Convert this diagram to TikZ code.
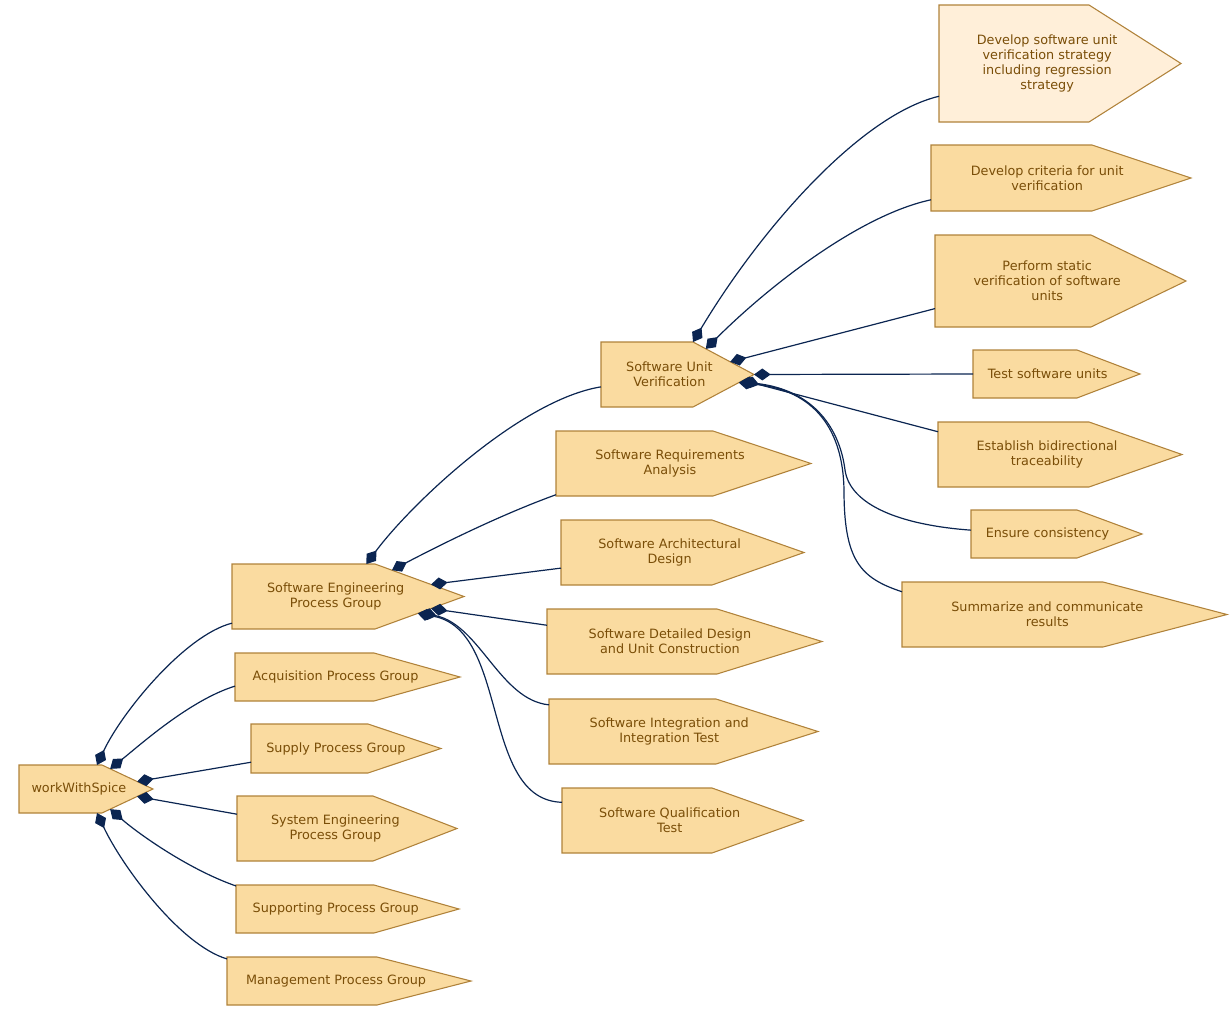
\documentclass[tikz,border=0pt]{standalone}
\usepackage{fontspec}
\setmainfont{DejaVu Sans}
\usepackage{xcolor}
\usepackage{tikz}
\usetikzlibrary{calc,arrows.meta}
\definecolor{stepfill}{HTML}{FADBA0}
\definecolor{steplight}{HTML}{FFEFD9}
\definecolor{stepline}{HTML}{B0823A}
\definecolor{steptextcol}{HTML}{7A4E08}
\definecolor{linkblue}{HTML}{0B2551}

\begin{document}
\begin{tikzpicture}[x=0.75pt,y=-0.75pt,
  stepshape/.style={draw=stepline,line width=0.8pt},
  steptext/.style={text=steptextcol,align=center,inner sep=0pt,font=\fontsize{9.6}{11.3}\selectfont},
  link/.style={draw=linkblue,line width=0.9pt,{Diamond[length=12.5pt,width=9pt]}-}]
\useasboundingbox (0,0) rectangle (1231,1010);
\newcommand{\drawstep}[8]{
  \coordinate (#1-nw) at (#2,#3);
  \coordinate (#1-ne) at (#4,#3);
  \coordinate (#1-tip) at (#5,{(#3+#6)/2});
  \coordinate (#1-se) at (#4,#6);
  \coordinate (#1-sw) at (#2,#6);
  \draw[stepshape,fill=#7] (#1-nw) -- (#1-ne) -- (#1-tip) -- (#1-se) -- (#1-sw) -- cycle;
  \node[steptext] (#1) at ({#2+0.447*(#5-#2)},{(#3+#6)/2}) {#8};}
\drawstep{wws}{19}{765}{102}{153}{813}{stepfill}{workWithSpice}
\drawstep{sepg}{232}{564}{375}{464}{629}{stepfill}{Software Engineering\\Process Group}
\drawstep{acq}{235}{653}{374}{460}{701}{stepfill}{Acquisition Process Group}
\drawstep{sup}{251}{724}{368}{441}{773}{stepfill}{Supply Process Group}
\drawstep{sys}{237}{796}{373}{457}{861}{stepfill}{System Engineering\\Process Group}
\drawstep{spt}{236}{885}{374}{459}{933}{stepfill}{Supporting Process Group}
\drawstep{mgt}{227}{957}{377}{471}{1005}{stepfill}{Management Process Group}
\drawstep{suv}{601}{342}{693}{754}{407}{stepfill}{Software Unit\\Verification}
\drawstep{sra}{556}{431}{713}{811}{496}{stepfill}{Software Requirements\\Analysis}
\drawstep{sad}{561}{520}{712}{804}{585}{stepfill}{Software Architectural\\Design}
\drawstep{sdd}{547}{609}{717}{822}{674}{stepfill}{Software Detailed Design\\and Unit Construction}
\drawstep{sit}{549}{699}{716}{818}{764}{stepfill}{Software Integration and\\Integration Test}
\drawstep{sqt}{562}{788}{712}{803}{853}{stepfill}{Software Qualification\\Test}
\drawstep{dss}{939}{5}{1089}{1181}{122}{steplight}{Develop software unit\\verification strategy\\including regression\\strategy}
\drawstep{dcr}{931}{145}{1092}{1191}{211}{stepfill}{Develop criteria for unit\\verification}
\drawstep{pss}{935}{235}{1091}{1186}{327}{stepfill}{Perform static\\verification of software\\units}
\drawstep{tsu}{973}{350}{1077}{1140}{398}{stepfill}{Test software units}
\drawstep{ebt}{938}{422}{1089}{1182}{487}{stepfill}{Establish bidirectional\\traceability}
\drawstep{ecs}{971}{510}{1077}{1142}{558}{stepfill}{Ensure consistency}
\drawstep{sac}{902}{582}{1103}{1227}{647}{stepfill}{Summarize and communicate\\results}
\draw[link] ($(wws-nw)!0.94!(wws-ne)$) .. controls (122,712) and (185,635) .. ($(sepg-nw)!0.91!(sepg-sw)$);
\draw[link] ($(wws-ne)!0.16!(wws-tip)$) .. controls (140,745) and (190,700) .. ($(acq-nw)!0.69!(acq-sw)$);
\draw[link] ($(wws-ne)!0.69!(wws-tip)$) -- ($(sup-nw)!0.78!(sup-sw)$);
\draw[link] ($(wws-tip)!0.31!(wws-se)$) -- ($(sys-nw)!0.28!(sys-sw)$);
\draw[link] ($(wws-tip)!0.84!(wws-se)$) .. controls (140,835) and (190,870) .. ($(spt-nw)!0.02!(spt-sw)$);
\draw[link] ($(wws-sw)!0.94!(wws-se)$) .. controls (122,866) and (180,945) .. ($(mgt-nw)!0.04!(mgt-sw)$);
\draw[link] ($(sepg-nw)!0.94!(sepg-ne)$) .. controls (410,505) and (520,400) .. ($(suv-nw)!0.69!(suv-sw)$);
\draw[link] ($(sepg-ne)!0.19!(sepg-tip)$) .. controls (440,545) and (500,515) .. ($(sra-nw)!0.98!(sra-sw)$);
\draw[link] ($(sepg-ne)!0.63!(sepg-tip)$) -- ($(sad-nw)!0.74!(sad-sw)$);
\draw[link] ($(sepg-tip)!0.37!(sepg-se)$) -- ($(sdd-nw)!0.25!(sdd-sw)$);
\draw[link] ($(sepg-tip)!0.49!(sepg-se)$) .. controls (480,625) and (500,700) .. ($(sit-nw)!0.09!(sit-sw)$);
\draw[link] ($(sepg-tip)!0.52!(sepg-se)$) .. controls (510,630) and (480,800) .. ($(sqt-nw)!0.22!(sqt-sw)$);
\draw[link] (suv-ne) .. controls (760,230) and (860,115) .. ($(dss-nw)!0.78!(dss-sw)$);
\draw[link] ($(suv-ne)!0.21!(suv-tip)$) .. controls (770,285) and (860,215) .. ($(dcr-nw)!0.83!(dcr-sw)$);
\draw[link] ($(suv-ne)!0.61!(suv-tip)$) -- ($(pss-nw)!0.8!(pss-sw)$);
\draw[link] (suv-tip) -- ($(tsu-nw)!0.5!(tsu-sw)$);
\draw[link] ($(suv-tip)!0.18!(suv-se)$) -- ($(ebt-nw)!0.15!(ebt-sw)$);
\draw[link] ($(suv-tip)!0.22!(suv-se)$) .. controls (815,390) and (840,430) .. (845,470) .. controls (850,505) and (900,525) .. ($(ecs-nw)!0.42!(ecs-sw)$);
\draw[link] ($(suv-tip)!0.25!(suv-se)$) .. controls (815,390) and (843,430) .. (844,490) .. controls (844,560) and (860,578) .. ($(sac-nw)!0.15!(sac-sw)$);
\end{tikzpicture}
\end{document}
